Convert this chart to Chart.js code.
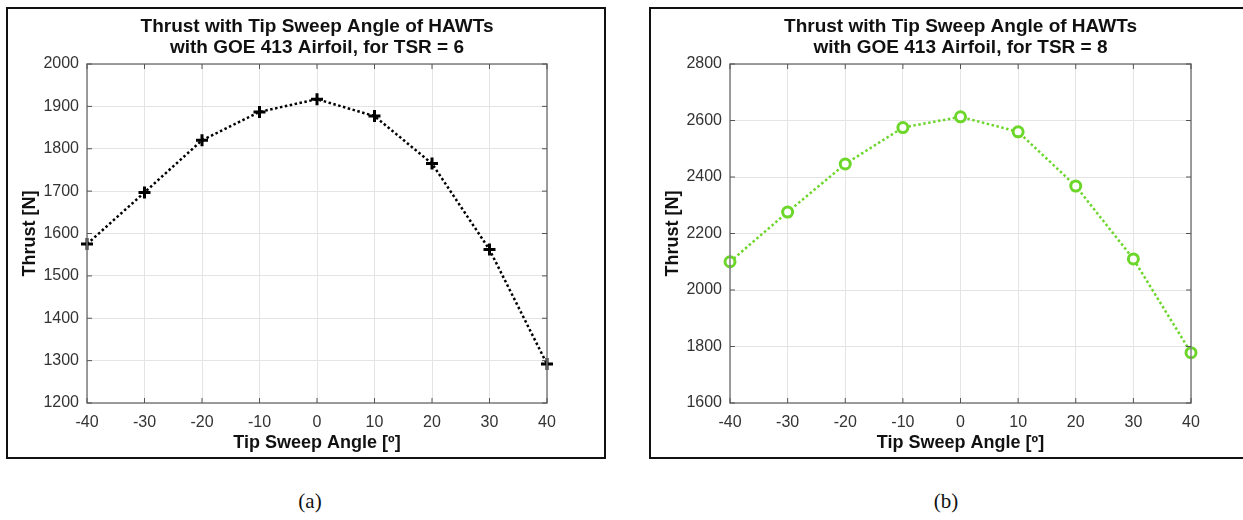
<!DOCTYPE html>
<html>
<head>
<meta charset="utf-8">
<script src="https://cdn.jsdelivr.net/npm/chart.js@4.4.0/dist/chart.umd.min.js"></script>
<style>
  body { margin: 0; background: #fff; overflow: hidden; width: 1243px; height: 520px; position: relative; }
  .panel { position: absolute; border: 2px solid #111; background: #fff; }
  .panel canvas { display: block; }
  .caption { position: absolute; font-family: "Liberation Serif", "DejaVu Serif", serif; font-size: 21px; color: #111; transform: translate(-50%, -50%); }
</style>
</head>
<body>
<div class="panel" style="left:6px; top:7px; width:596px; height:448px;">
  <canvas id="tsr6Chart" width="596" height="448"></canvas>
</div>
<div class="panel" style="left:649px; top:7px; width:597px; height:448px;">
  <canvas id="tsr8Chart" width="597" height="448"></canvas>
</div>
<div class="caption" style="left:310px; top:501px;">(a)</div>
<div class="caption" style="left:946px; top:501px;">(b)</div>

<script>
// tip sweep angles (deg)
const sweepAngles = [-40, -30, -20, -10, 0, 10, 20, 30, 40];
// thrust [N] for each sweep angle
const thrustTsr6 = [1575, 1697, 1820, 1887, 1917, 1877, 1765, 1562, 1292];
const thrustTsr8 = [2100, 2276, 2446, 2575, 2613, 2560, 2368, 2110, 1778];

const titleTsr6 = ['Thrust with Tip Sweep Angle of HAWTs', 'with GOE 413 Airfoil, for TSR = 6'];
const titleTsr8 = ['Thrust with Tip Sweep Angle of HAWTs', 'with GOE 413 Airfoil, for TSR = 8'];

const yRangeTsr6 = [1200, 2000, 100];
const yRangeTsr8 = [1600, 2800, 200];

const axisColor = '#333';
const fontFamily = '"Liberation Sans", Arial, Helvetica, sans-serif';

// MATLAB-ish axes box with small inward ticks, plus the two-line title over the plot
const axesBox = {
  id: 'axesBox',
  afterDraw(chart, args, opts) {
    const ctx = chart.ctx;
    const a = chart.chartArea;
    const xs = chart.scales.x, ys = chart.scales.y;
    ctx.save();
    ctx.strokeStyle = '#7d7d7d';
    ctx.lineWidth = 1.5;
    ctx.strokeRect(a.left, a.top, a.right - a.left, a.bottom - a.top);
    ctx.strokeStyle = '#555';
    ctx.lineWidth = 1;
    ctx.beginPath();
    xs.ticks.forEach(t => {
      const px = xs.getPixelForValue(t.value);
      ctx.moveTo(px, a.top); ctx.lineTo(px, a.top + 5);
      ctx.moveTo(px, a.bottom); ctx.lineTo(px, a.bottom - 5);
    });
    ys.ticks.forEach(t => {
      const py = ys.getPixelForValue(t.value);
      ctx.moveTo(a.left, py); ctx.lineTo(a.left + 5, py);
      ctx.moveTo(a.right, py); ctx.lineTo(a.right - 5, py);
    });
    ctx.stroke();
    ctx.restore();
  },
  afterDatasetsDraw(chart, args, opts) {
    const ctx = chart.ctx;
    const a = chart.chartArea;
    ctx.save();
    ctx.fillStyle = '#111';
    ctx.font = 'bold 19px ' + fontFamily;
    ctx.textAlign = 'center';
    ctx.textBaseline = 'middle';
    const cx = (a.left + a.right) / 2;
    opts.lines.forEach((line, i) => ctx.fillText(line, cx, 18 + i * 21));
    ctx.restore();
  }
};

function makeThrustChart(canvasId, values, titleLines, yRange, style) {
  const ctx = document.getElementById(canvasId).getContext('2d');
  return new Chart(ctx, {
    type: 'line',
    data: {
      datasets: [{
        data: sweepAngles.map((a, i) => ({ x: a, y: values[i] })),
        borderColor: style.color,
        borderWidth: 2.5,
        borderDash: [2.5, 2.5],
        pointStyle: style.marker,
        pointRadius: style.radius,
        pointBorderWidth: 3,
        pointBorderColor: style.color,
        pointBackgroundColor: '#fff',
        tension: 0,
        clip: false
      }]
    },
    options: {
      responsive: false,
      animation: false,
      layout: { padding: { top: 55, right: 57, left: 0, bottom: 0 } },
      plugins: {
        legend: { display: false },
        tooltip: { enabled: false },
        axesBox: { lines: titleLines }
      },
      scales: {
        x: {
          type: 'linear',
          min: -40,
          max: 40,
          afterFit: s => { s.height = 54; },
          ticks: { stepSize: 10, padding: 10, color: axisColor, font: { family: fontFamily, size: 16 } },
          grid: { color: '#e4e4e4', lineWidth: 1, drawTicks: false },
          border: { display: false },
          title: {
            display: true,
            text: 'Tip Sweep Angle [º]',
            color: '#111',
            font: { family: fontFamily, size: 18, weight: 'bold' },
            padding: { top: 0, bottom: 3 }
          }
        },
        y: {
          min: yRange[0],
          max: yRange[1],
          afterFit: s => { s.width = 79; },
          ticks: {
            stepSize: yRange[2],
            padding: 8,
            color: axisColor,
            font: { family: fontFamily, size: 16 },
            callback: v => String(v)
          },
          grid: { color: '#e4e4e4', lineWidth: 1, drawTicks: false },
          border: { display: false },
          title: {
            display: true,
            text: 'Thrust [N]',
            color: '#111',
            font: { family: fontFamily, size: 18, weight: 'bold' },
            padding: { top: 11, bottom: 0 }
          }
        }
      }
    },
    plugins: [axesBox]
  });
}

makeThrustChart('tsr6Chart', thrustTsr6, titleTsr6, yRangeTsr6, { color: '#000', marker: 'cross', radius: 6 });
makeThrustChart('tsr8Chart', thrustTsr8, titleTsr8, yRangeTsr8, { color: '#6cd62b', marker: 'circle', radius: 5 });
</script>
</body>
</html>
